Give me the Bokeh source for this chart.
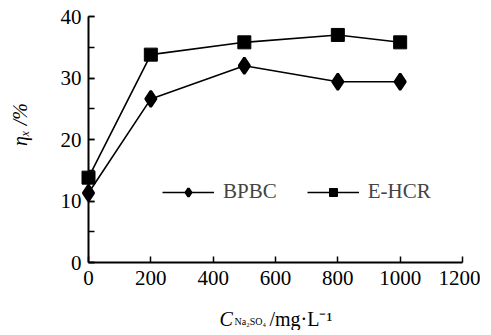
import math
from bokeh.plotting import figure
from bokeh.models import (Range1d, SingleIntervalTicker, FixedTicker, LinearAxis,
                          Legend, LegendItem, Label)
from bokeh.embed import file_html
from bokeh.resources import INLINE

# data
conc = [0, 200, 500, 800, 1000]
bpbc = [11.3, 26.6, 32.0, 29.4, 29.4]
ehcr = [13.8, 33.8, 35.8, 37.0, 35.8]
x_ticks = [0, 200, 400, 600, 800, 1000, 1200]
series_names = ["BPBC", "E-HCR"]

FONT = "Liberation Serif"
W, H = 480, 330
# pixel geometry of the drawing area (axes box) inside the canvas
L, R, T, B = 88, 462, 16, 262
XMIN, XMAX, YMIN, YMAX = 0, 1200, 0, 40
sx = (XMAX - XMIN) / (R - L)
sy = (YMAX - YMIN) / (B - T)

def cx(px):
    return XMIN + (px - L) * sx

def cy(py):
    return YMIN + (B - py) * sy

p = figure(width=W, height=H, output_backend="svg", toolbar_location=None,
           x_range=Range1d(cx(0), cx(W)), y_range=Range1d(cy(H), cy(0)),
           x_axis_type=None, y_axis_type=None,
           min_border=0)
p.outline_line_color = None
p.xgrid.visible = False
p.ygrid.visible = False

axis_style = dict(axis_line_width=2, axis_line_color="black",
                  major_tick_in=6, major_tick_out=0, major_tick_line_width=1.5,
                  major_tick_line_color="black",
                  minor_tick_in=6, minor_tick_out=0, minor_tick_line_width=1.5,
                  major_label_text_font=FONT, major_label_text_font_size="21px",
                  major_label_text_color="black")

xaxis = LinearAxis(ticker=FixedTicker(ticks=x_ticks), minor_tick_line_color=None,
                   major_label_standoff=8, fixed_location=YMIN, bounds=(XMIN, XMAX),
                   **axis_style)
yaxis = LinearAxis(ticker=SingleIntervalTicker(interval=10, num_minor_ticks=2),
                   minor_tick_line_color="black", major_label_standoff=7,
                   fixed_location=XMIN, bounds=(YMIN, YMAX),
                   **axis_style)
p.add_layout(xaxis, "below")
p.add_layout(yaxis, "left")

r1 = p.line(conc, bpbc, line_color="black", line_width=1.6)
m1 = p.scatter(conc, bpbc, marker="diamond", size=16, line_width=2.5,
               fill_color="black", line_color="black")
r2 = p.line(conc, ehcr, line_color="black", line_width=1.6)
m2 = p.scatter(conc, ehcr, marker="square", size=13,
               fill_color="black", line_color="black")

legend = Legend(items=[LegendItem(label=series_names[0], renderers=[r1, m1]),
                       LegendItem(label=series_names[1], renderers=[r2, m2])],
                orientation="horizontal", location=(162, H - 204),
                border_line_color=None, background_fill_alpha=0,
                padding=0, margin=0, spacing=30,
                glyph_width=52, glyph_height=20, label_height=20,
                label_standoff=9,
                label_text_font=FONT, label_text_font_size="21px")
p.add_layout(legend, "center")

# x axis label with subscript
p.add_layout(Label(x=cx(219), y=cy(318), text="C", text_font=FONT, text_font_style="italic",
                   text_baseline="alphabetic", text_font_size="20px", text_color="black"))
p.add_layout(Label(x=cx(234), y=cy(321), text="Na₂SO₄", text_font=FONT,
                   text_baseline="alphabetic", text_font_size="10px", text_color="black"))
p.add_layout(Label(x=cx(269), y=cy(318), text="/mg·L⁻¹", text_font=FONT,
                   text_baseline="alphabetic", text_font_size="20px", text_color="black"))
# y axis label
p.add_layout(Label(x=cx(19), y=cy(124), text="ηₓ /%", text_font=FONT, text_font_style="italic",
                   text_align="center", text_baseline="middle",
                   angle=math.pi / 2, text_font_size="20px", text_color="black"))

open("out.html", "w").write(file_html(p, INLINE))
